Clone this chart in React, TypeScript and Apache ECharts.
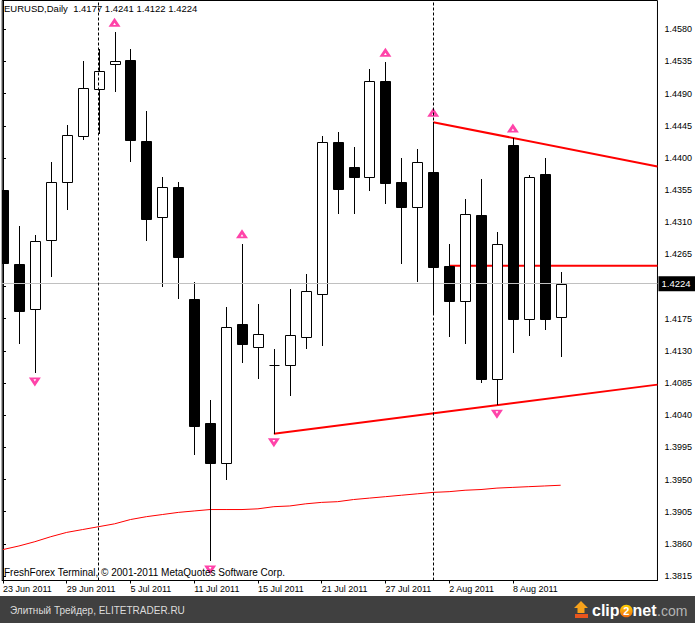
import React, { useEffect, useRef } from 'react';
import * as echarts from 'echarts';

// ---- data ----
const symbolName = 'EURUSD,Daily';
const dateLabels = ['23 Jun 2011', '29 Jun 2011', '5 Jul 2011', '11 Jul 2011', '15 Jul 2011', '21 Jul 2011', '27 Jul 2011', '2 Aug 2011', '8 Aug 2011'];
const dateLabelIdx = [0, 4, 8, 12, 16, 20, 24, 28, 32];
const priceTicks = [1.3815, 1.386, 1.3905, 1.395, 1.3995, 1.404, 1.4085, 1.413, 1.4175, 1.422, 1.4265, 1.431, 1.4355, 1.44, 1.4445, 1.449, 1.4535, 1.458];

const opens = [1.4355, 1.4252, 1.4189, 1.4285, 1.4367, 1.4431, 1.4497, 1.4531, 1.4537, 1.4423, 1.4317, 1.4360, 1.4202, 1.4029, 1.3973, 1.4167, 1.4136, 1.4110, 1.4110, 1.4149, 1.4210, 1.4422, 1.4387, 1.4374, 1.4507, 1.4367, 1.4331, 1.4381, 1.4249, 1.4200, 1.4320, 1.4090, 1.4418, 1.4175, 1.4378, 1.4177];
const highs = [1.4359, 1.4305, 1.4292, 1.4395, 1.4446, 1.4535, 1.4552, 1.4576, 1.4552, 1.4465, 1.4373, 1.4367, 1.4226, 1.4061, 1.4192, 1.4280, 1.4196, 1.4133, 1.4216, 1.4238, 1.4431, 1.4436, 1.4416, 1.4524, 1.4534, 1.4400, 1.4412, 1.4450, 1.4280, 1.4342, 1.4371, 1.4297, 1.4428, 1.4376, 1.4400, 1.4241];
const lows = [1.4124, 1.4140, 1.4099, 1.4234, 1.4327, 1.4425, 1.4433, 1.4492, 1.4394, 1.4284, 1.4220, 1.4203, 1.3984, 1.3836, 1.3949, 1.4113, 1.4090, 1.4014, 1.4067, 1.4132, 1.4137, 1.4322, 1.4322, 1.4354, 1.4336, 1.4251, 1.4227, 1.4183, 1.4150, 1.4140, 1.4085, 1.4054, 1.4127, 1.4151, 1.4159, 1.4122];
const closes = [1.4253, 1.4186, 1.4284, 1.4367, 1.4432, 1.4498, 1.4522, 1.4535, 1.4425, 1.4315, 1.4360, 1.4262, 1.4025, 1.3973, 1.4164, 1.4139, 1.4154, 1.4110, 1.4152, 1.4214, 1.4422, 1.4357, 1.4373, 1.4508, 1.4365, 1.4332, 1.4394, 1.4248, 1.4200, 1.4321, 1.4091, 1.4280, 1.4175, 1.4374, 1.4175, 1.4224];
const maValues = [1.3852, 1.3857, 1.3863, 1.3870, 1.3876, 1.3880, 1.3884, 1.3888, 1.3894, 1.3898, 1.3901, 1.3904, 1.3906, 1.3908, 1.3908, 1.3908, 1.3909, 1.3912, 1.3913, 1.3916, 1.3918, 1.3919, 1.3922, 1.3924, 1.3926, 1.3928, 1.3930, 1.3932, 1.3933, 1.3935, 1.3936, 1.3938, 1.3939, 1.3940, 1.3941, 1.3942];
const fractalUpIdx = [7, 15, 24, 27, 32];
const fractalDownIdx = [2, 13, 17, 31];
const separatorIdx = [6, 27];
const resistanceIdx = [27, 32]; // trendline through these highs
const supportIdx = [17, 31]; // trendline through these lows
const levelStartIdx = 28; // horizontal level from this bar's open

// ---- axis extents ----
const X_MIN = -0.05;
const X_MAX = 41.075;
const Y_MIN = 1.38087;
const Y_MAX = 1.46203;

const FONT = "'Liberation Sans', Arial, sans-serif";

function ray(x1: number, p1: number, x2: number, p2: number) {
  const slope = (p2 - p1) / (x2 - x1);
  return [[x1, p1], [X_MAX, p1 + slope * (X_MAX - x1)]];
}

const candleData = opens.map((o, i) => [i, o, closes[i], lows[i], highs[i]]);
const last = opens.length - 1;
const fmt = (v: number) => v.toFixed(4);
// the bid label covers the tick label nearest to the last close
const priceLabelValues = priceTicks.filter((v) => Math.abs(v - closes[last]) > 0.0015);

const upArrow = 'path://M0,10 L6,0 L12,10 Z M4.6,8.2 L7.4,8.2 L6,5.6 Z';

export default function App() {
  const ref = useRef<HTMLDivElement>(null);
  useEffect(() => {
    const chart = echarts.init(ref.current!, null, { renderer: 'svg' });
    const option: any = {
      animation: false,
      backgroundColor: '#fff',
      textStyle: { fontFamily: FONT },
      grid: { left: 0.5, top: 0.5, right: 36.5, bottom: 42.5, show: true, borderColor: '#000', borderWidth: 1, backgroundColor: '#fff' },
      xAxis: {
        type: 'value', min: X_MIN, max: X_MAX,
        splitLine: { show: false },
        axisLine: { show: true, lineStyle: { color: '#000', width: 1 } },
        axisTick: { show: true, customValues: dateLabelIdx, length: 3, lineStyle: { color: '#000' } },
        axisLabel: {
          customValues: dateLabelIdx, align: 'left', margin: 4, fontSize: 9, color: '#000', fontFamily: FONT,
          formatter: (v: number) => dateLabels[dateLabelIdx.indexOf(Math.round(v))] ?? '',
        },
      },
      yAxis: {
        type: 'value', position: 'right', min: Y_MIN, max: Y_MAX,
        splitLine: { show: false },
        axisLine: { show: true, lineStyle: { color: '#000', width: 1 } },
        axisTick: { show: true, customValues: priceTicks, length: 3, lineStyle: { color: '#000' } },
        axisLabel: { customValues: priceLabelValues, align: 'left', margin: 7, fontSize: 9, color: '#000', fontFamily: FONT, formatter: (v: number) => fmt(v) },
      },
      graphic: [
        { type: 'text', left: 4, top: 3, z: 100, style: { text: `${symbolName}  ${fmt(opens[last])} ${fmt(highs[last])} ${fmt(lows[last])} ${fmt(closes[last])}`, fontSize: 9.5, fontFamily: FONT, fill: '#000' } },
        { type: 'text', left: 4, top: 567, z: 100, style: { text: 'FreshForex Terminal, © 2001-2011 MetaQuotes Software Corp.', fontSize: 10, fontFamily: FONT, fill: '#000' } },
        { type: 'rect', shape: { x: 0, y: 596, width: 695, height: 27 }, z: 100, style: { fill: '#404040' } },
        { type: 'text', x: 10, y: 610, z: 101, style: { text: 'Элитный Трейдер, ELITETRADER.RU', fontSize: 10, fontFamily: FONT, fill: '#dcdcdc', verticalAlign: 'middle' } },
        { type: 'polygon', z: 101, shape: { points: [[581, 601], [588, 608], [584.5, 608], [584.5, 613], [577.5, 613], [577.5, 608], [574, 608]] }, style: { fill: '#f7a21b' } },
        { type: 'rect', z: 101, shape: { x: 575, y: 614, width: 13, height: 4 }, style: { fill: '#e8551e' } },
        { type: 'text', x: 592, y: 610, z: 101, style: { text: 'clip', fontSize: 16, fontWeight: 'bold', fontFamily: FONT, fill: '#fff', verticalAlign: 'middle' } },
        { type: 'circle', z: 101, shape: { cx: 626.3, cy: 611, r: 6.3 }, style: { fill: new echarts.graphic.LinearGradient(0, 0, 0, 1, [{ offset: 0, color: '#ffd200' }, { offset: 1, color: '#f06a10' }]) } },
        { type: 'text', x: 626.3, y: 611, z: 102, style: { text: '2', fontSize: 11, fontWeight: 'bold', fontFamily: FONT, fill: '#fff', align: 'center', verticalAlign: 'middle' } },
        { type: 'text', x: 632.5, y: 610, z: 101, style: { text: 'net', fontSize: 16, fontWeight: 'bold', fontFamily: FONT, fill: '#fff', verticalAlign: 'middle' } },
        { type: 'text', x: 657, y: 611, z: 101, style: { text: '.com', fontSize: 14, fontFamily: FONT, fill: '#b4b4b4', verticalAlign: 'middle' } },
      ],
      series: [
        {
          type: 'line', name: 'MA', data: maValues.map((v, i) => [i, v]), symbol: 'none', clip: true,
          lineStyle: { color: '#ff0000', width: 1 }, z: 1,
          markLine: {
            silent: true, symbol: 'none', animation: false, precision: 4,
            data: [{ yAxis: closes[last] }],
            lineStyle: { color: '#c0c0c0', type: 'solid', width: 1 },
            label: { show: true, position: 'end', formatter: fmt(closes[last]), backgroundColor: '#000', color: '#fff', padding: [3, 5, 2, 3], distance: 1, fontSize: 9.5, fontFamily: FONT },
          },
        },
        {
          type: 'line', name: 'separators', data: [], symbol: 'none', z: 1,
          markLine: {
            silent: true, symbol: 'none', animation: false, precision: 4,
            data: separatorIdx.map((i) => ({ xAxis: i })),
            lineStyle: { color: '#000', type: [3, 2], width: 1 },
            label: { show: false },
          },
        },
        {
          type: 'line', name: 'resistance', symbol: 'none', clip: true, z: 1,
          data: ray(resistanceIdx[0], highs[resistanceIdx[0]], resistanceIdx[1], highs[resistanceIdx[1]]),
          lineStyle: { color: '#ff0000', width: 2 },
        },
        {
          type: 'line', name: 'support', symbol: 'none', clip: true, z: 1,
          data: ray(supportIdx[0], lows[supportIdx[0]], supportIdx[1], lows[supportIdx[1]]),
          lineStyle: { color: '#ff0000', width: 2 },
        },
        {
          type: 'line', name: 'level', symbol: 'none', clip: true, z: 1,
          data: [[levelStartIdx, opens[levelStartIdx]], [X_MAX, opens[levelStartIdx]]],
          lineStyle: { color: '#ff0000', width: 2 },
        },
        {
          type: 'custom', name: 'EURUSD', data: candleData, clip: true, z: 3,
          encode: { x: 0, y: [1, 2, 3, 4] },
          renderItem: (params: any, api: any) => {
            const i = api.value(0);
            const o = api.value(1), c = api.value(2), l = api.value(3), h = api.value(4);
            const pO = api.coord([i, o]);
            const pC = api.coord([i, c]);
            const pL = api.coord([i, l]);
            const pH = api.coord([i, h]);
            const x = Math.round(pO[0]) + 0.5;
            const top = Math.round(Math.min(pO[1], pC[1])) + 0.5;
            const bot = Math.round(Math.max(pO[1], pC[1])) + 0.5;
            const bear = c < o;
            const children: any[] = [
              { type: 'line', shape: { x1: x, y1: Math.round(pH[1]), x2: x, y2: Math.round(pL[1]) }, style: { stroke: '#000', lineWidth: 1 } },
            ];
            if (bot - top < 1) {
              children.push({ type: 'line', shape: { x1: x - 5, y1: top, x2: x + 5, y2: top }, style: { stroke: '#000', lineWidth: 1 } });
            } else {
              children.push({ type: 'rect', shape: { x: x - 5, y: top, width: 10, height: bot - top }, style: { fill: bear ? '#000' : '#fff', stroke: '#000', lineWidth: 1 } });
            }
            return { type: 'group', children };
          },
        },
        {
          type: 'scatter', name: 'fractal up', z: 4,
          data: fractalUpIdx.map((i) => [i, highs[i]]),
          symbol: upArrow, symbolSize: [12, 9], symbolOffset: [0, -10],
          itemStyle: { color: '#ff1493' },
        },
        {
          type: 'scatter', name: 'fractal down', z: 4,
          data: fractalDownIdx.map((i) => [i, lows[i]]),
          symbol: upArrow, symbolSize: [12, 9], symbolRotate: 180, symbolOffset: [0, 9],
          itemStyle: { color: '#ff1493' },
        },
      ],
    };
    chart.setOption(option);
    return () => chart.dispose();
  }, []);
  return <div ref={ref} style={{ position: 'fixed', left: 0, top: 0, width: 695, height: 623, background: '#fff' }} />;
}
